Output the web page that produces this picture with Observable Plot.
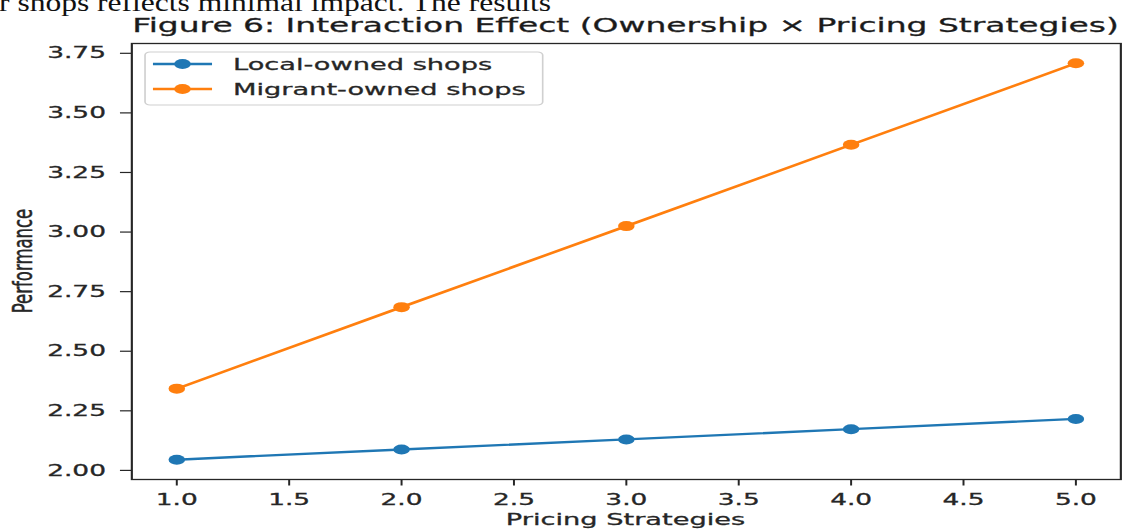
<!DOCTYPE html>
<html>
<head>
<meta charset="utf-8">
<script src="https://cdn.jsdelivr.net/npm/d3@7"></script>
<script src="https://cdn.jsdelivr.net/npm/@observablehq/plot@0.6"></script>
<style>
  html, body { margin: 0; padding: 0; background: #fff; overflow: hidden; }
  #page { position: relative; width: 1127px; height: 529px; overflow: hidden; }
  #stretch { position: absolute; left: 0; top: 0; width: 683px; height: 529px;
             transform: scaleX(1.65); transform-origin: 0 0; }
  #stretch > svg { position: absolute; left: 0; top: 0; }
  #stretch text { stroke: currentColor; stroke-width: 0.3px; }
</style>
</head>
<body>
<div id="page">
  <svg id="doc" width="1127" height="20" style="position:absolute;left:0;top:0">
    <text x="-1" y="11" font-family="Liberation Serif" font-size="25" fill="#111"
          textLength="552" lengthAdjust="spacingAndGlyphs">r shops reflects minimal impact. The results</text>
  </svg>
  <div id="stretch"></div>
</div>
<script>
// ---- data ----
const pricing = [1, 2, 3, 4, 5];
const localOwned = [2.045, 2.088, 2.130, 2.173, 2.216];
const migrantOwned = [2.343, 2.685, 3.025, 3.366, 3.708];
const seriesNames = ["Local-owned shops", "Migrant-owned shops"];
const seriesColors = ["#1f77b4", "#ff7f0e"];
const xTicks = [1.0, 1.5, 2.0, 2.5, 3.0, 3.5, 4.0, 4.5, 5.0];
const yTicks = [2.00, 2.25, 2.50, 2.75, 3.00, 3.25, 3.50, 3.75];
const titleText = "Figure 6: Interaction Effect (Ownership \u00d7 Pricing Strategies)";
const xLabel = "Pricing Strategies";
const yLabel = "Performance";

// ---- table ----
const rows = [];
[localOwned, migrantOwned].forEach((vals, i) => {
  pricing.forEach((p, j) => rows.push({series: seriesNames[i], x: p, y: vals[j]}));
});

// matplotlib-like 5% margins
function padded(arr) {
  const lo = d3.min(arr), hi = d3.max(arr), pad = (hi - lo) * 0.05;
  return [lo - pad, hi + pad];
}
const xDomain = padded(pricing);
const yDomain = padded(localOwned.concat(migrantOwned));

const W = 683, H = 529;
const mL = 79.4, mR = 4.2, mT = 43, mB = 50;
const FONT = "DejaVu Sans";
const ink = "#262626";

const chart = Plot.plot({
  width: W, height: H,
  marginLeft: mL, marginRight: mR, marginTop: mT, marginBottom: mB,
  style: {fontFamily: FONT, fontSize: "16px", color: ink, background: "transparent"},
  x: {domain: xDomain},
  y: {domain: yDomain},
  color: {domain: seriesNames, range: seriesColors},
  marks: [
    Plot.axisX({ticks: xTicks, tickFormat: d3.format(".1f"), tickSize: 6.5, tickPadding: 7.5,
                label: null, stroke: ink, strokeWidth: 1.2}),
    Plot.axisY({ticks: yTicks, tickFormat: d3.format(".2f"), tickSize: 6.7, tickPadding: 9,
                label: null, stroke: ink, strokeWidth: 1.2}),
    Plot.line(rows, {x: "x", y: "y", z: "series", stroke: "series", strokeWidth: 2.4}),
    Plot.dot(rows, {x: "x", y: "y", fill: "series", r: 5, stroke: "none"}),
    Plot.frame({stroke: ink, strokeWidth: 1.3})
  ]
});
const host = document.getElementById("stretch");
host.appendChild(chart);

// ---- overlay: title, axis labels, legend ----
const ov = d3.select(host).append("svg").attr("width", W).attr("height", H)
  .style("font-family", FONT).style("color", ink);
const frameCx = (mL + (W - mR)) / 2;
ov.append("text").attr("x", frameCx).attr("y", 31.7).attr("text-anchor", "middle")
  .attr("font-size", 20).attr("fill", "#1a1a1a")
  .attr("textLength", 598).attr("lengthAdjust", "spacingAndGlyphs").text(titleText);
ov.append("text").attr("x", frameCx).attr("y", 525).attr("text-anchor", "middle")
  .attr("font-size", 16.5).attr("fill", ink).text(xLabel);
ov.append("text").attr("transform", `translate(19.5,${(mT + H - mB) / 2}) rotate(-90)`)
  .attr("text-anchor", "middle").attr("font-size", 16.5).attr("fill", ink).text(yLabel);

const lg = ov.append("g");
lg.append("rect").attr("x", 87.9).attr("y", 52).attr("width", 241).attr("height", 53)
  .attr("rx", 3).attr("fill", "#fff").attr("fill-opacity", 0.8)
  .attr("stroke", "#d0d0d0").attr("stroke-width", 1);
seriesNames.forEach((name, i) => {
  const cy = 64 + i * 25;
  lg.append("line").attr("x1", 92.7).attr("x2", 128.5).attr("y1", cy).attr("y2", cy)
    .attr("stroke", seriesColors[i]).attr("stroke-width", 2.4);
  lg.append("circle").attr("cx", 110.6).attr("cy", cy).attr("r", 5).attr("fill", seriesColors[i]);
  lg.append("text").attr("x", 141.2).attr("y", cy).attr("dy", "0.36em")
    .attr("font-size", 16.5).attr("fill", ink).text(name);
});
</script>
</body>
</html>
